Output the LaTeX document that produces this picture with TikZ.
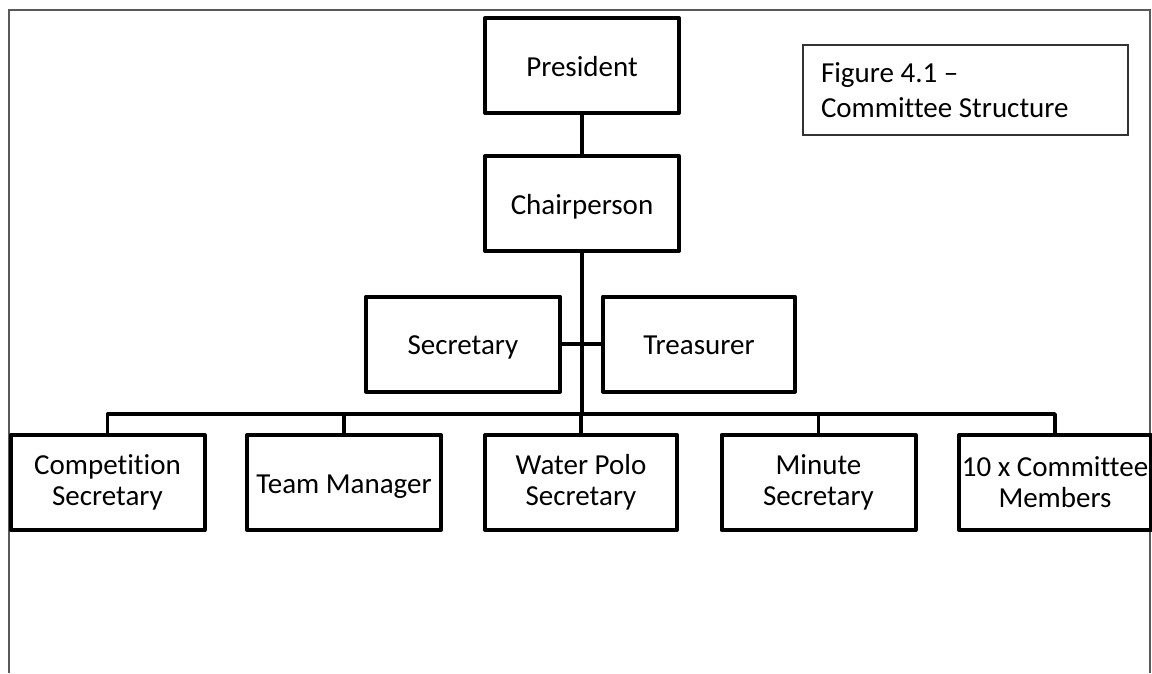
\documentclass[tikz,border=0pt]{standalone}
\usepackage{fontspec}
\setmainfont{Carlito}[Ligatures=NoCommon]
\begin{document}
\begin{tikzpicture}[x=1pt,y=-1pt,
  post/.style={draw, line width=4pt, line join=round, minimum width=194pt,
    minimum height=95pt, align=center, inner sep=2pt,
    font=\fontsize{29}{31}\selectfont},
  oneline/.style={text height=24pt, text depth=3pt},
  link/.style={line width=3.5pt},
  caption/.style={draw=black!80, line width=1.5pt, minimum height=90pt,
    text width=289pt, inner xsep=18pt, align=flush left,
    font=\fontsize{29}{35}\selectfont}]
  \useasboundingbox (0,0) rectangle (1152,673);

  % Page frame
  \draw[line width=2.5pt, black!65] (9,673) -- (9,10) -- (1150,10) -- (1150,673);

  % Officers
  \node[post, oneline] (pres) at (582,65.5) {President};
  \node[post, oneline] (chair) at (582,203.5) {Chairperson};
  \node[post, oneline] (sec) at (463,344) {Secretary};
  \node[post, oneline, minimum width=192pt] (treas) at (699,344) {Treasurer};

  % Secretaries and members
  \node[post] (comp) at (107.5,482.5) {Competition\\Secretary};
  \node[post, oneline] (team) at (344,482.5) {Team Manager};
  \node[post, minimum width=192pt] (polo) at (581,482.5) {Water Polo\\Secretary};
  \node[post] (minute) at (818.5,482.5) {Minute\\Secretary};
  \node[post, minimum width=192pt] (members) at (1055,482.5) {10 x Committee\\Members};

  \node[caption] (fig) at (965.5,90) {Figure 4.1 --\\Committee Structure};

  % Lines
  \coordinate (bus) at (582,414);
  \draw[link] (pres) -- (chair);
  \draw[link] (chair) -- (bus);
  \draw[link] (sec) -- (treas);
  \draw[link, line join=round] (comp.north) |- (bus) -| (members.north);
  \foreach \n in {team,polo,minute}
    \draw[link] (\n.north) -- (\n.north |- bus);
\end{tikzpicture}
\end{document}
